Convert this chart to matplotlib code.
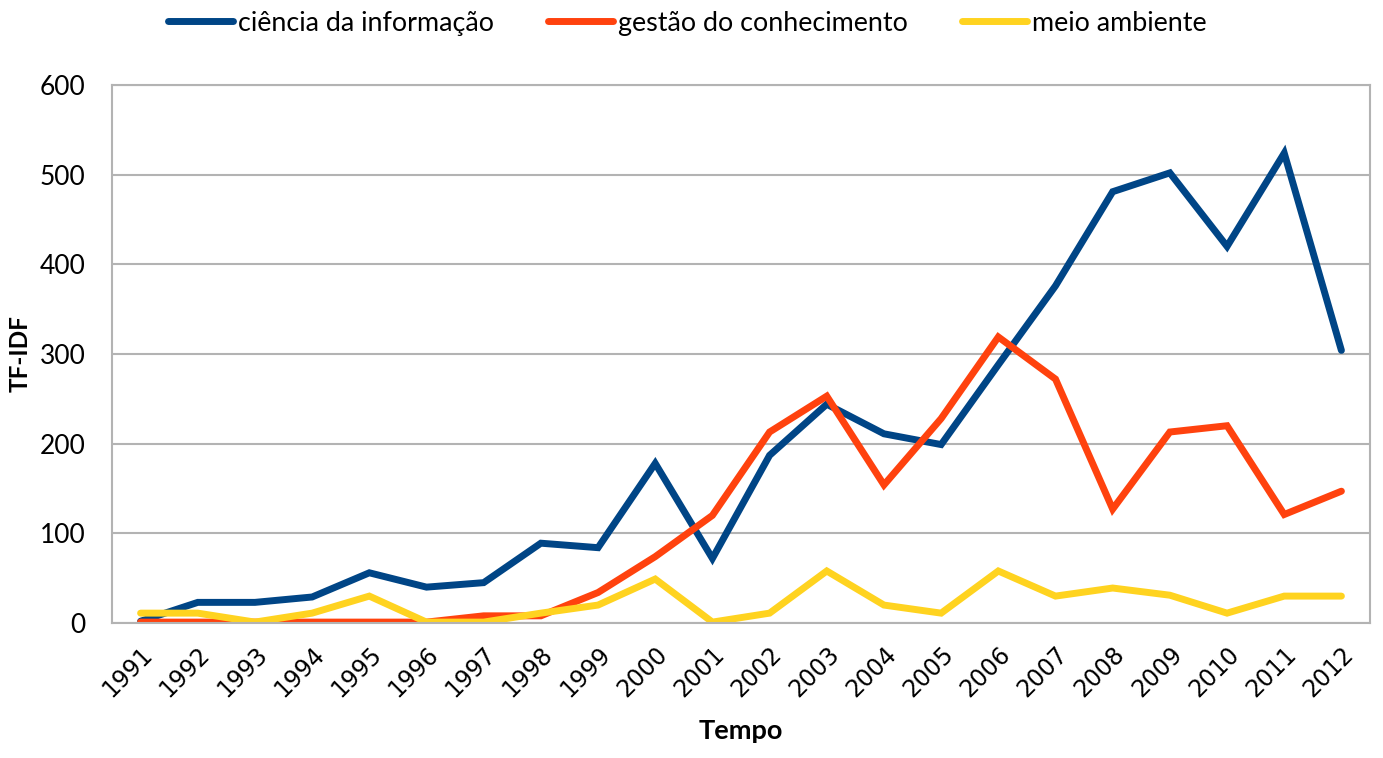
import matplotlib
matplotlib.use('Agg')
from matplotlib import pyplot as plt

anos = ['1991', '1992', '1993', '1994', '1995', '1996', '1997', '1998', '1999', '2000', '2001',
        '2002', '2003', '2004', '2005', '2006', '2007', '2008', '2009', '2010', '2011', '2012']
ciencia_informacao = [2, 23, 23, 29, 56, 40, 45, 89, 84, 178, 72,
                      187, 244, 211, 199, 288, 376, 481, 502, 420, 524, 304]
gestao_conhecimento = [1, 1, 1, 1, 1, 1, 8, 8, 34, 74, 120,
                       213, 253, 154, 228, 319, 272, 127, 213, 220, 121, 147]
meio_ambiente = [11, 11, 1, 11, 30, 1, 1, 11, 20, 49, 1,
                 11, 58, 20, 11, 58, 30, 39, 31, 11, 30, 30]
y_ticks = [0, 100, 200, 300, 400, 500, 600]

plt.rcParams['font.family'] = ['Lato', 'DejaVu Sans']

fig = plt.figure(figsize=(13.83, 7.58), dpi=100)
ax = fig.add_axes([112 / 1383, 1 - 623 / 758, 1258 / 1383, 538 / 758])

x = range(len(anos))
ax.plot(x, ciencia_informacao, color='#004586', lw=5, label='ciência da informação', solid_capstyle='round', solid_joinstyle='miter')
ax.plot(x, gestao_conhecimento, color='#ff420e', lw=5, label='gestão do conhecimento', solid_capstyle='round', solid_joinstyle='miter')
ax.plot(x, meio_ambiente, color='#ffd320', lw=5, label='meio ambiente', solid_capstyle='round', solid_joinstyle='miter')

ax.set_xlim(-0.5, len(anos) - 0.5)
ax.set_ylim(0, 600)
ax.set_yticks(y_ticks)
ax.set_yticklabels([str(v) for v in y_ticks], fontsize=19)
ax.set_xticks(list(x))
ax.set_xticklabels(anos, rotation=45, ha='right', rotation_mode='anchor',
                   fontsize=17, family='DejaVu Sans')
ax.tick_params(length=0)
ax.tick_params(axis='y', pad=19)
ax.tick_params(axis='x', pad=14)
ax.grid(axis='y', color='#b3b3b3', lw=1.5)
ax.set_axisbelow(True)
for s in ax.spines.values():
    s.set_color('#b3b3b3')
    s.set_linewidth(1.5)

ax.set_ylabel('TF-IDF', fontsize=17.5, fontweight='bold', labelpad=6)
ax.set_xlabel('Tempo', fontsize=19.5, fontweight='bold', labelpad=12)

fig.legend(loc='upper center', bbox_to_anchor=(0.497, 1.018), ncol=3, frameon=False,
           fontsize=19.4, handlelength=2.4, handletextpad=0.2, columnspacing=2.0)

fig.savefig('out.png', dpi=100)
